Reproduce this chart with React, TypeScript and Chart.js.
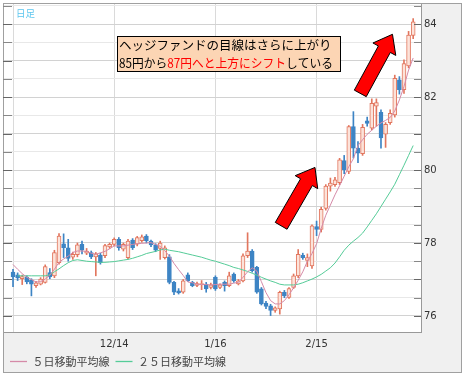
import React, { useEffect, useRef } from 'react';
import { Chart, registerables } from 'chart.js';

Chart.register(...registerables);

// ---- data (daily candles, index 0 = 11/14) ----
const openP = [
  77.20, 77.13, 77.02, 77.06, 76.98, 76.83, 76.87, 76.92, 77.19, 77.10,
  77.46, 77.98, 77.87, 77.61, 77.68, 77.96, 77.72, 77.74, 77.62, 77.67,
  77.65, 77.89, 77.96, 78.10, 77.83, 77.60, 78.08, 77.97, 78.06, 78.19,
  78.05, 77.95, 77.85, 77.60, 77.62, 76.92, 76.69, 76.65, 77.13, 76.92,
  76.84, 76.86, 76.87, 76.78, 77.06, 76.78, 76.92, 76.83, 77.15, 76.88,
  76.96, 77.65, 77.78, 77.33, 76.74, 76.35, 76.28, 76.15, 76.19, 76.65,
  76.51, 76.78, 77.10, 77.66, 77.52, 77.37, 78.45, 78.37, 78.95, 79.56,
  79.60, 79.65, 80.26, 79.96, 81.19, 80.60, 80.45, 81.35, 81.15, 81.75,
  81.58, 80.98, 81.30, 81.51, 82.47, 82.20, 82.85, 83.69,
];
const highP = [
  77.28, 77.18, 77.12, 77.10, 77.02, 76.95, 77.05, 77.40, 77.30, 77.80,
  78.26, 78.25, 78.10, 77.75, 78.00, 78.05, 77.85, 77.78, 77.74, 77.72,
  77.96, 78.00, 78.14, 78.15, 78.00, 78.10, 78.12, 78.18, 78.22, 78.23,
  78.08, 77.98, 78.05, 77.92, 77.68, 76.95, 76.75, 77.00, 77.18, 76.95,
  76.93, 76.97, 76.92, 76.90, 77.10, 76.88, 76.96, 77.20, 77.18, 77.00,
  77.70, 78.28, 77.82, 77.36, 76.78, 76.40, 76.32, 76.25, 76.68, 76.70,
  76.78, 77.15, 77.82, 77.72, 77.70, 78.50, 78.60, 78.98, 79.60, 79.78,
  79.80, 80.32, 80.40, 81.22, 81.60, 80.78, 81.25, 81.45, 81.95, 81.95,
  81.65, 81.30, 81.65, 82.60, 82.56, 83.02, 83.80, 84.15,
];
const lowP = [
  76.80, 76.97, 76.86, 76.88, 76.55, 76.78, 76.85, 76.90, 77.02, 77.05,
  77.42, 77.60, 77.50, 77.55, 77.62, 77.70, 77.68, 77.57, 77.10, 77.42,
  77.60, 77.85, 77.92, 77.80, 77.78, 77.56, 77.82, 77.92, 78.02, 78.00,
  77.90, 77.76, 77.55, 77.56, 76.88, 76.58, 76.60, 76.62, 76.94, 76.80,
  76.80, 76.72, 76.65, 76.74, 76.70, 76.75, 76.68, 76.80, 76.92, 76.85,
  76.93, 77.60, 77.20, 76.62, 76.30, 76.20, 76.01, 76.10, 76.05, 76.50,
  76.48, 76.75, 77.05, 77.55, 77.35, 77.30, 78.20, 78.30, 78.90, 79.42,
  79.55, 79.60, 79.90, 79.90, 80.33, 80.20, 80.40, 81.20, 81.10, 81.20,
  80.60, 80.62, 81.25, 81.45, 82.08, 82.10, 82.80, 83.60,
];
const closeP = [
  77.07, 77.04, 77.08, 76.93, 76.87, 76.91, 77.01, 77.35, 77.07, 77.74,
  78.19, 77.87, 77.58, 77.69, 77.95, 77.80, 77.78, 77.62, 77.70, 77.46,
  77.93, 77.96, 78.10, 77.87, 77.96, 78.05, 77.87, 78.15, 78.17, 78.06,
  77.95, 77.80, 78.00, 77.87, 76.92, 76.65, 76.63, 76.96, 76.96, 76.83,
  76.89, 76.88, 76.74, 76.85, 76.74, 76.85, 76.83, 77.10, 76.96, 76.96,
  77.65, 77.78, 77.24, 76.65, 76.33, 76.26, 76.15, 76.22, 76.65, 76.55,
  76.75, 77.10, 77.69, 77.60, 77.60, 78.47, 78.37, 78.92, 79.56, 79.64,
  79.73, 80.28, 80.01, 81.19, 80.60, 80.46, 81.17, 81.28, 81.83, 81.85,
  80.88, 81.25, 81.55, 82.51, 82.20, 82.92, 83.70, 84.06,
];
const ma5 = [
  77.41, 77.28, 77.16, 77.06, 77.00, 76.93, 76.94, 77.01, 77.12, 77.28,
  77.47, 77.56, 77.64, 77.74, 77.78, 77.78, 77.77, 77.72, 77.69, 77.73,
  77.77, 77.84, 77.92, 77.92, 77.92, 77.94, 77.96, 77.98, 77.99, 78.00,
  78.01, 77.96, 77.91, 77.79, 77.64, 77.44, 77.27, 77.11, 76.93, 76.91,
  76.87, 76.86, 76.86, 76.85, 76.86, 76.87, 76.87, 76.87, 76.90, 76.92,
  77.06, 77.21, 77.32, 77.23, 76.94, 76.64, 76.42, 76.33, 76.33, 76.42,
  76.58, 76.77, 76.98, 77.21, 77.50, 77.71, 77.98, 78.40, 78.76, 79.04,
  79.32, 79.57, 79.83, 80.09, 80.31, 80.67, 80.83, 80.98, 81.09, 81.20,
  81.29, 81.36, 81.44, 81.62, 81.92, 82.29, 82.74, 83.07,
];
const ma25 = [
  null, 77.10, 77.10, 77.10, 77.10, 77.10, 77.10, 77.10, 77.13, 77.21,
  77.29, 77.38, 77.46, 77.52, 77.54, 77.52, 77.50, 77.49, 77.48, 77.47,
  77.47, 77.48, 77.49, 77.51, 77.53, 77.55, 77.58, 77.62, 77.66, 77.71,
  77.74, 77.77, 77.81, 77.83, 77.80, 77.78, 77.76, 77.73, 77.70, 77.67,
  77.64, 77.61, 77.57, 77.53, 77.50, 77.46, 77.42, 77.38, 77.33, 77.30,
  77.26, 77.22, 77.17, 77.12, 77.06, 77.01, 76.96, 76.92, 76.87, 76.85,
  76.85, 76.85, 76.87, 76.91, 76.96, 77.01, 77.07, 77.14, 77.23, 77.32,
  77.45, 77.62, 77.80, 77.94, 78.05, 78.15, 78.27, 78.44, 78.62, 78.80,
  79.00, 79.20, 79.40, 79.61, 79.87, 80.13, 80.40, 80.67,
];

const xTickIndex = [0, 22, 44, 66];
const xTickLabels = ['', '12/14', '1/16', '2/15'];
const yTickValues = [76, 76.5, 77, 77.5, 78, 78.5, 79, 79.5, 80, 80.5, 81, 81.5, 82, 82.5, 83, 83.5, 84, 84.5];
const yLabelValues = [76, 78, 80, 82, 84];
const legendLabels = ['５日移動平均線', '２５日移動平均線'];
const periodLabel = '日足';
const noteLine1 = 'ヘッジファンドの目線はさらに上がり';
const noteLine2 = ['85円から', '87円へと上方にシフト', 'している'];
const noteLine2Red = [false, true, false];
// arrows in data coordinates: [index, value] tail -> tip
const arrowTails = [[58.3, 78.47], [75.5, 82.10]];
const arrowTips = [[65.65, 80.07], [82.5, 83.72]];

const UP_LINE = '#e2765e';
const UP_FILL = '#fce3da';
const DOWN = '#3d84c4';
const MA5_COLOR = '#d58aa8';
const MA25_COLOR = '#55cc98';
const LINE_COLORS = [MA5_COLOR, MA25_COLOR];
const AXIS_FONT = { family: "'DejaVu Sans'", size: 10 };

const framePlugin = {
  id: 'frame',
  beforeDraw(chart: any) {
    const { ctx, chartArea: ca } = chart;
    ctx.save();
    ctx.fillStyle = '#ffffff';
    ctx.fillRect(0, 0, chart.width, chart.height);
    ctx.fillStyle = '#f0f0f0';
    ctx.fillRect(3, 3, 459, 370);
    ctx.strokeStyle = '#a0a0a0';
    ctx.lineWidth = 1;
    ctx.strokeRect(3.5, 3.5, 458, 369);
    ctx.fillStyle = '#ffffff';
    ctx.fillRect(ca.left, ca.top, ca.right - ca.left, ca.bottom - ca.top);
    ctx.restore();
  },
};

const overlayPlugin = {
  id: 'overlay',
  afterDraw(chart: any) {
    const { ctx, chartArea: ca } = chart;
    const xs = chart.scales.x;
    const ys = chart.scales.y;
    ctx.save();
    // inner tick marks on both sides
    ctx.lineWidth = 1;
    yTickValues.forEach((v) => {
      const py = Math.round(ys.getPixelForValue(v)) + 0.5;
      ctx.strokeStyle = Number.isInteger(v) ? '#666' : '#888';
      ctx.beginPath();
      ctx.moveTo(ca.left - 1, py);
      ctx.lineTo(ca.left + 8, py);
      ctx.moveTo(ca.right - 7, py);
      ctx.lineTo(ca.right, py);
      ctx.stroke();
    });

    // arrows
    arrowTails.forEach((tail, k) => {
      const tip = arrowTips[k];
      const x0 = xs.getPixelForValue(tail[0]);
      const y0 = ys.getPixelForValue(tail[1]);
      const x1 = xs.getPixelForValue(tip[0]);
      const y1 = ys.getPixelForValue(tip[1]);
      const len = Math.hypot(x1 - x0, y1 - y0);
      const dx = (x1 - x0) / len;
      const dy = (y1 - y0) / len;
      const nx = -dy;
      const ny = dx;
      const sw = 6.8;
      const hw = 13;
      const hl = 17;
      const bx = x1 - dx * hl;
      const by = y1 - dy * hl;
      ctx.beginPath();
      ctx.moveTo(x0 + nx * sw, y0 + ny * sw);
      ctx.lineTo(bx + nx * sw, by + ny * sw);
      ctx.lineTo(bx + nx * hw, by + ny * hw);
      ctx.lineTo(x1, y1);
      ctx.lineTo(bx - nx * hw, by - ny * hw);
      ctx.lineTo(bx - nx * sw, by - ny * sw);
      ctx.lineTo(x0 - nx * sw, y0 - ny * sw);
      ctx.closePath();
      ctx.fillStyle = '#ff0000';
      ctx.fill();
      ctx.strokeStyle = '#000000';
      ctx.lineWidth = 1;
      ctx.stroke();
    });

    // note box
    ctx.fillStyle = '#fcd5b4';
    ctx.fillRect(117, 36, 224, 36);
    ctx.strokeStyle = '#000';
    ctx.lineWidth = 1;
    ctx.strokeRect(117.5, 36.5, 223, 35);
    ctx.font = "12.5px 'Noto Sans CJK JP'";
    ctx.textBaseline = 'middle';
    ctx.textAlign = 'left';
    ctx.fillStyle = '#000';
    ctx.fillText(noteLine1, 119, 45);
    // second line, slightly condensed so it fits the box like the reference
    const total = noteLine2.reduce((s, seg) => s + ctx.measureText(seg).width, 0);
    const sx = Math.min(1, 214 / total);
    ctx.save();
    ctx.translate(119, 63.5);
    ctx.scale(sx, 1);
    let cx = 0;
    noteLine2.forEach((seg, k) => {
      ctx.fillStyle = noteLine2Red[k] ? '#ff0000' : '#000';
      ctx.fillText(seg, cx, 0);
      cx += ctx.measureText(seg).width;
    });
    ctx.restore();

    // period label
    ctx.font = "9.5px 'Noto Sans CJK JP'";
    ctx.fillStyle = '#5cc6ee';
    ctx.textBaseline = 'middle';
    ctx.fillText(periodLabel, 16, 13);
    ctx.restore();
  },
};

export default function App() {
  const ref = useRef<HTMLCanvasElement>(null);

  useEffect(() => {
    const canvas = ref.current;
    if (!canvas) return;
    const idx = openP.map((_, i) => i);
    const up = idx.map((i) => closeP[i] >= openP[i]);

    const chart = new Chart(canvas, {
      type: 'bar',
      data: {
        datasets: [
          {
            type: 'line',
            label: legendLabels[0],
            data: idx.map((i) => ({ x: i, y: ma5[i] })),
            borderColor: MA5_COLOR,
            backgroundColor: MA5_COLOR,
            borderWidth: 1,
            pointRadius: 0,
            tension: 0,
            order: 0,
          } as any,
          {
            type: 'line',
            label: legendLabels[1],
            data: idx.map((i) => ({ x: i, y: ma25[i] })),
            borderColor: MA25_COLOR,
            backgroundColor: MA25_COLOR,
            borderWidth: 1,
            pointRadius: 0,
            tension: 0,
            order: 0,
          } as any,
          {
            type: 'bar',
            label: 'body',
            data: idx.map((i) => ({ x: i, y: [openP[i], closeP[i]] })),
            backgroundColor: idx.map((i) => (up[i] ? UP_FILL : DOWN)),
            borderColor: idx.map((i) => (up[i] ? UP_LINE : DOWN)),
            borderWidth: 1,
            borderSkipped: false,
            barThickness: 4,
            minBarLength: 1,
            grouped: false,
            order: 1,
          } as any,
          {
            type: 'bar',
            label: 'wick',
            data: idx.map((i) => ({ x: i, y: [lowP[i], highP[i]] })),
            backgroundColor: idx.map((i) => (up[i] ? UP_LINE : DOWN)),
            borderWidth: 0,
            barThickness: 1,
            grouped: false,
            order: 2,
          } as any,
        ],
      },
      options: {
        responsive: false,
        animation: false,
        devicePixelRatio: 1,
        events: [],
        layout: { padding: { left: 4, top: 4, right: 0, bottom: 0 } },
        plugins: {
          tooltip: { enabled: false },
          legend: {
            position: 'bottom',
            align: 'start',
            labels: {
              usePointStyle: true,
              pointStyle: 'line',
              pointStyleWidth: 17,
              padding: 6,
              color: '#444',
              font: { family: "'Noto Sans CJK JP'", size: 11 },
              generateLabels: () =>
                legendLabels.map((text, k) => ({
                  text,
                  datasetIndex: k,
                  fillStyle: LINE_COLORS[k],
                  strokeStyle: LINE_COLORS[k],
                  lineWidth: 1.3,
                  pointStyle: 'line',
                  hidden: false,
                  fontColor: '#444',
                })),
            },
          },
        },
        scales: {
          x: {
            type: 'linear',
            min: -1.96,
            max: 88.7,
            offset: false,
            grid: { color: '#dadada', drawTicks: false, offset: false },
            border: { display: true, color: '#999' },
            ticks: {
              padding: 6,
              autoSkip: false,
              maxRotation: 0,
              color: '#333',
              font: AXIS_FONT,
              callback: (v: any) => {
                const k = xTickIndex.indexOf(Number(v));
                return k >= 0 ? xTickLabels[k] : '';
              },
            },
            afterBuildTicks: (s: any) => {
              s.ticks = xTickIndex.map((v) => ({ value: v }));
            },
            afterFit: (s: any) => {
              s.height = 18;
              s.paddingLeft = 0;
              s.paddingRight = 0;
            },
          },
          y: {
            type: 'linear',
            position: 'right',
            min: 75.56,
            max: 84.55,
            grid: {
              drawTicks: false,
              color: (c: any) =>
                c.tick && Number.isInteger(c.tick.value) ? '#d2d2d2' : '#e8e8e8',
            },
            border: { display: true, color: '#999' },
            ticks: {
              padding: 3,
              autoSkip: false,
              color: '#333',
              font: AXIS_FONT,
              callback: (v: any) => (yLabelValues.includes(Number(v)) ? String(v) : ''),
            },
            afterBuildTicks: (s: any) => {
              s.ticks = yTickValues.map((v) => ({ value: v }));
            },
            afterFit: (s: any) => {
              s.width = 44;
              s.paddingTop = 0;
              s.paddingBottom = 0;
            },
          },
        },
      } as any,
      plugins: [framePlugin, overlayPlugin],
    });
    return () => chart.destroy();
  }, []);

  return (
    <div style={{ position: 'absolute', left: 0, top: 0, width: 465, height: 377 }}>
      <canvas ref={ref} width={465} height={377} style={{ display: 'block', width: 465, height: 377 }} />
    </div>
  );
}
